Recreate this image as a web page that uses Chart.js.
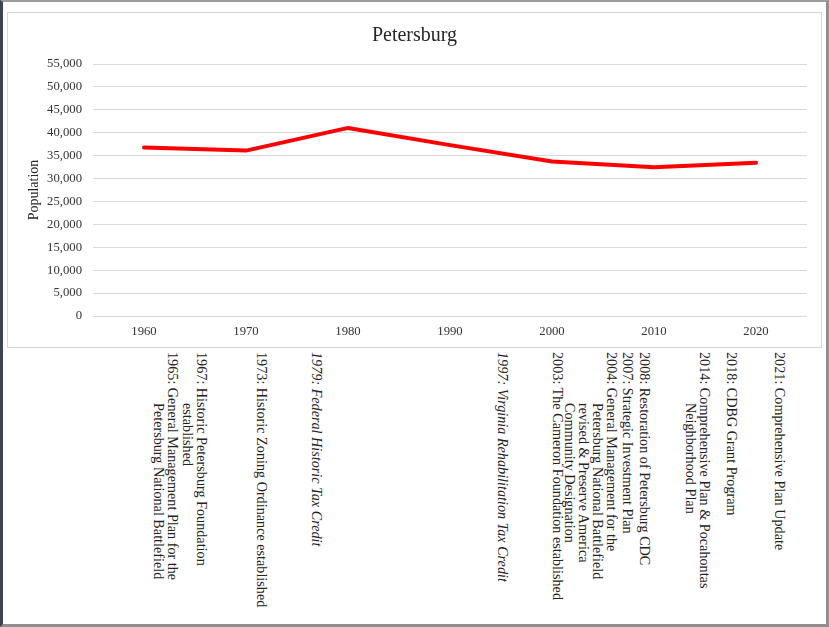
<!DOCTYPE html>
<html>
<head>
<meta charset="utf-8">
<script src="https://cdn.jsdelivr.net/npm/chart.js@4.4.1/dist/chart.umd.min.js"></script>
<style>
  body { margin: 0; background: #fff; font-family: 'Liberation Serif', 'Times New Roman', serif; }
  #page { position: relative; width: 829px; height: 627px; overflow: hidden; }
  #frame { position: absolute; left: 0; top: 0; width: 829px; height: 627px; box-sizing: border-box;
           border-left: 3px solid #3a4550; border-top: 2px solid #9b9b9b;
           border-right: 3px solid #8f8f8f; border-bottom: 3px solid #8f8f8f; pointer-events: none; }
  #chartBox { position: absolute; left: 7px; top: 12px; width: 815px; height: 336px;
              box-sizing: border-box; border: 1px solid #d6d6d6; }
  #chartBox > div { position: relative; width: 100%; height: 100%; }
  .note { position: absolute; top: 352px; writing-mode: vertical-rl; white-space: nowrap;
          font-size: 14.2px; line-height: 14px; color: #222; }
  .note span { display: block; }
  .note span + span { padding-top: 51px; }
</style>
</head>
<body>
<div id="page">
  <div id="chartBox"><div><canvas id="chartPopulacao"></canvas></div></div>
  <div id="notas"></div>
  <div id="frame"></div>
</div>
<script>
// Dados do censo
const anos = ['1960', '1970', '1980', '1990', '2000', '2010', '2020'];
const populacao = [36750, 36100, 41050, 37300, 33700, 32450, 33450];
const yTicksMax = 55000;
const yTicksStep = 5000;

// Marcos históricos (texto de cada nota, uma linha por item)
const notasTexto = [
  ['1965: General Management Plan for the', 'Petersburg National Battlefield'],
  ['1967: Historic Petersburg Foundation', 'established'],
  ['1973: Historic Zoning Ordinance established'],
  ['1979: Federal Historic Tax Credit'],
  ['1997: Virginia Rehabilitation Tax Credit'],
  ['2003: The Cameron Foundation established'],
  ['2004: General Management for the', 'Petersburg National Battlefield', 'revised & Preserve America', 'Community Designation'],
  ['2007: Strategic Investment Plan'],
  ['2008: Restoration of Petersburg CDC'],
  ['2014: Comprehensive Plan & Pocahontas', 'Neighborhood Plan'],
  ['2018: CDBG Grant Program'],
  ['2021: Comprehensive Plan Update']
];
const notasItalico = [false, false, false, true, true, false, false, false, false, false, false, false];

// posição horizontal (centro da primeira linha) de cada nota
const notasX = [173, 202, 262, 317, 503, 558, 612, 628, 645, 705, 732, 780];

function montarNotas() {
  const container = document.getElementById('notas');
  notasTexto.forEach((linhas, i) => {
    const div = document.createElement('div');
    div.className = 'note';
    if (notasItalico[i]) div.style.fontStyle = 'italic';
    linhas.forEach(l => {
      const span = document.createElement('span');
      span.textContent = l;
      div.appendChild(span);
    });
    div.style.left = (notasX[i] + 7 - linhas.length * 14) + 'px';
    container.appendChild(div);
  });
}
montarNotas();

const fonte = "'Liberation Serif', 'Times New Roman', serif";

const ctx = document.getElementById('chartPopulacao').getContext('2d');
new Chart(ctx, {
  type: 'line',
  data: {
    labels: anos,
    datasets: [{
      label: 'Population',
      data: populacao,
      borderColor: '#ff0000',
      backgroundColor: '#ff0000',
      borderWidth: 4,
      pointRadius: 0,
      tension: 0,
      borderCapStyle: 'round',
      borderJoinStyle: 'round'
    }]
  },
  options: {
    responsive: true,
    maintainAspectRatio: false,
    animation: false,
    layout: { padding: { left: 14, right: 14, top: 0, bottom: 0 } },
    plugins: {
      legend: { display: false },
      tooltip: { enabled: false },
      title: {
        display: true,
        text: 'Petersburg',
        color: '#262626',
        font: { family: fonte, size: 20, weight: 'normal' },
        padding: { top: 11, bottom: 16 }
      }
    },
    scales: {
      x: {
        offset: true,
        grid: { display: false, drawTicks: false },
        border: { display: false },
        ticks: { color: '#333', font: { family: fonte, size: 12.7 }, padding: 8, maxRotation: 0 },
        afterFit: s => { s.height = 31; }
      },
      y: {
        min: 0,
        max: yTicksMax,
        grid: { color: '#d9d9d9', lineWidth: 1, drawTicks: false },
        border: { display: false },
        ticks: {
          stepSize: yTicksStep,
          color: '#333',
          padding: 11,
          font: { family: fonte, size: 12.7 },
          callback: v => v.toLocaleString('en-US')
        },
        title: {
          display: true,
          text: 'Population',
          color: '#262626',
          font: { family: fonte, size: 14 },
          padding: { top: 3.6, bottom: 0 }
        },
        afterFit: s => { s.width = 71; }
      }
    }
  }
});
</script>
</body>
</html>
